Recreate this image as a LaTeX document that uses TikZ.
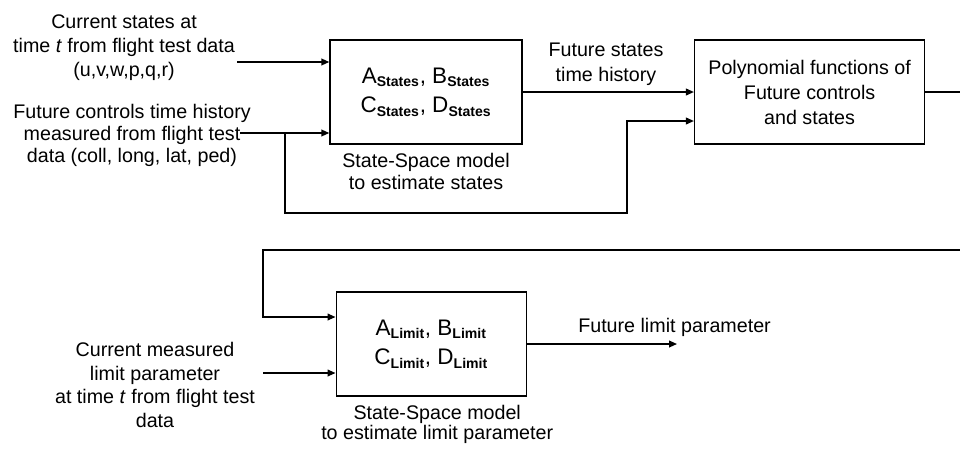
\documentclass[tikz,border=0pt]{standalone}
\usepackage{fontspec}
\setmainfont{Liberation Sans}
\usetikzlibrary{arrows.meta, positioning, calc}

\newcommand{\msub}[1]{\textsubscript{\bfseries\fontsize{10}{10}\selectfont #1}}

\begin{document}
\begin{tikzpicture}[block/.style={rectangle, draw, line width=1pt, minimum height=2.6cm, align=center,
  font=\fontsize{16}{21}\selectfont},
  txt/.style={align=center, inner sep=0pt, font=\fontsize{14}{17}\selectfont},
  arr/.style={line width=1pt, -{Triangle[length=2mm, width=1.7mm]}},
  wire/.style={line width=1pt}]
  \useasboundingbox (0,0) rectangle (24,-11.25);

  % blocks
  \node[block, minimum width=4.8cm]   (ssm)  at (10.65,-2.3)  {A\msub{States}, B\msub{States}\\C\msub{States}, D\msub{States}};
  \node[block, minimum width=5.75cm, font=\fontsize{14}{17.8}\selectfont] (poly) at (20.24,-2.3)
    {Polynomial functions of\\Future controls\\and states};
  \node[block, minimum width=4.75cm]  (lim)  at (10.78,-8.6)  {A\msub{Limit}, B\msub{Limit}\\C\msub{Limit}, D\msub{Limit}};

  % captions and inputs
  \node[txt, below=0.2cm of ssm, font=\fontsize{14}{15.6}\selectfont] (cap1) {State-Space model\\to estimate states};
  \node[txt, below=0.2cm of lim, font=\fontsize{14}{14.5}\selectfont, xshift=0.15cm] (cap3) {State-Space model\\to estimate limit parameter};
  \node[txt] (curst)   at (3.1,-1.2)   {Current states at\\time \textit{t} from flight test data\\(u,v,w,p,q,r)};
  \node[txt, font=\fontsize{14}{15.6}\selectfont] (futctrl) at (3.3,-3.375) {Future controls time history\\measured from flight test\\data (coll, long, lat, ped)};
  \node[txt] (curlim)  at (3.875,-9.625) {Current measured\\limit parameter\\at time \textit{t} from flight test\\data};
  \node[txt, font=\fontsize{14}{18}\selectfont] (futst) at (15.15,-1.6) {Future states\\time history};
  \node[txt, anchor=west] (futlim) at (14.45,-8.175) {Future limit parameter};

  % connector points
  \coordinate (in1)  at (5.925,-1.55);
  \coordinate (in2)  at (6.0,-3.325);
  \coordinate (br1)  at (7.125,-3.325);
  \coordinate (bend) at (15.675,-5.325);
  \coordinate (out2) at (24,-2.3);
  \coordinate (ret)  at (24,-6.25);
  \coordinate (retc) at (6.575,-6.25);
  \coordinate (in3)  at (6.575,-9.325);
  \coordinate (out3) at (16.925,-8.6);

  \draw[arr] (in1) -- (in1 -| ssm.west);
  \draw[arr] (in2) -- (in2 -| ssm.west);
  \draw[arr] (br1) |- (bend) |- ($(poly.west)+(0,-0.725)$);
  \draw[arr] (ssm.east) -- (poly.west);
  \draw[wire] (poly.east) -- (out2);
  \draw[arr] (ret) -- (retc) |- ($(lim.west)+(0,0.675)$);
  \draw[arr] (in3) -- (in3 -| lim.west);
  \draw[arr] (lim.east) -- (out3);
\end{tikzpicture}
\end{document}
